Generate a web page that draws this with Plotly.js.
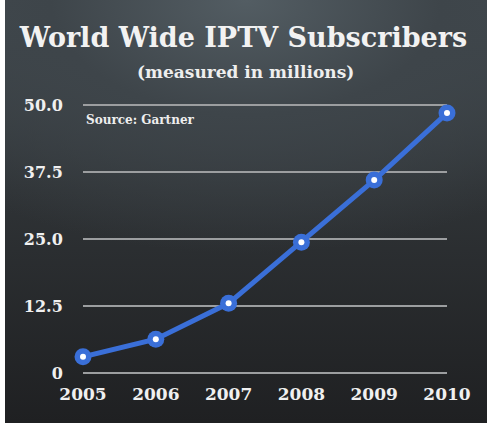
<!DOCTYPE html>
<html>
<head>
<meta charset="utf-8">
<script src="https://cdn.plot.ly/plotly-3.0.1.min.js"></script>
<style>
  html, body { margin:0; padding:0; background:#ffffff; width:487px; height:434px; overflow:hidden; }
  #bg { position:absolute; left:5px; top:0; width:482px; height:423px;
        background: radial-gradient(ellipse 90% 60% at 50% 0%, #535d63 0%, #3e454a 45%, rgba(40,43,46,0) 100%),
                    linear-gradient(to bottom, #434b50 0%, #2f3336 45%, #1f2022 100%); }
  #chart { position:absolute; left:0; top:0; width:487px; height:434px; }
</style>
</head>
<body>
<div id="bg"></div>
<div id="chart"></div>
<script>
const years = [2005, 2006, 2007, 2008, 2009, 2010];
const subscribers = [3.0, 6.3, 13.0, 24.4, 36.0, 48.5];
const yTicks = [0, 12.5, 25, 37.5, 50];
const yTickLabels = ['0', '12.5', '25.0', '37.5', '50.0'];
const titleText = 'World Wide IPTV Subscribers';
const subtitleText = '(measured in millions)';
const sourceText = 'Source: Gartner';

const fontFam = '"DejaVu Serif", "Liberation Serif", serif';

const traces = [
  {
    x: years, y: subscribers, type: 'scatter', mode: 'lines+markers',
    line: { color: '#3a6fd8', width: 5 },
    marker: { color: '#3a6fd8', size: 17, line: { width: 0 } },
    cliponaxis: false, hoverinfo: 'skip'
  },
  {
    x: years, y: subscribers, type: 'scatter', mode: 'markers',
    marker: { color: '#ffffff', size: 6 },
    cliponaxis: false, hoverinfo: 'skip'
  }
];

const layout = {
  width: 487, height: 434,
  paper_bgcolor: 'rgba(0,0,0,0)', plot_bgcolor: 'rgba(0,0,0,0)',
  margin: { l: 83, r: 40, t: 104, b: 60 },
  showlegend: false,
  title: {
    text: '<b>' + titleText + '</b>',
    font: { family: fontFam, size: 27, color: '#f2f2f2' },
    x: 0.5, xanchor: 'center', xref: 'container',
    y: 1 - 38/434, yanchor: 'middle', yref: 'container'
  },
  xaxis: {
    range: [2005, 2010], tickvals: years, ticktext: years.map(String),
    showgrid: false, zeroline: false, showline: false,
    ticks: 'outside', ticklen: 5, tickcolor: 'rgba(0,0,0,0)',
    tickfont: { family: fontFam, size: 17, color: '#f0f0f0', weight: 'bold' }
  },
  yaxis: {
    range: [-0.2, 50.2], tickvals: yTicks, ticktext: yTickLabels,
    showgrid: true, gridcolor: '#9c9ea0', gridwidth: 2,
    zeroline: true, zerolinecolor: '#9c9ea0', zerolinewidth: 2,
    showline: false,
    ticks: 'outside', ticklen: 16, tickcolor: 'rgba(0,0,0,0)',
    tickfont: { family: fontFam, size: 16, color: '#f0f0f0', weight: 'bold' }
  },
  annotations: [
    { text: subtitleText, xref: 'paper', yref: 'paper', x: (245 - 83) / 364, y: (374 - 72) / 270,
      xanchor: 'center', yanchor: 'middle', showarrow: false,
      font: { family: fontFam, size: 17, color: '#eeeeee', weight: 'bold' } },
    { text: '<b>' + sourceText + '</b>', xref: 'paper', yref: 'paper', x: 0.003, y: (374 - 120) / 270,
      xanchor: 'left', yanchor: 'middle', showarrow: false,
      font: { family: fontFam, size: 12, color: '#eeeeee' } }
  ]
};

Plotly.newPlot('chart', traces, layout, { displayModeBar: false, staticPlot: true });
</script>
</body>
</html>
